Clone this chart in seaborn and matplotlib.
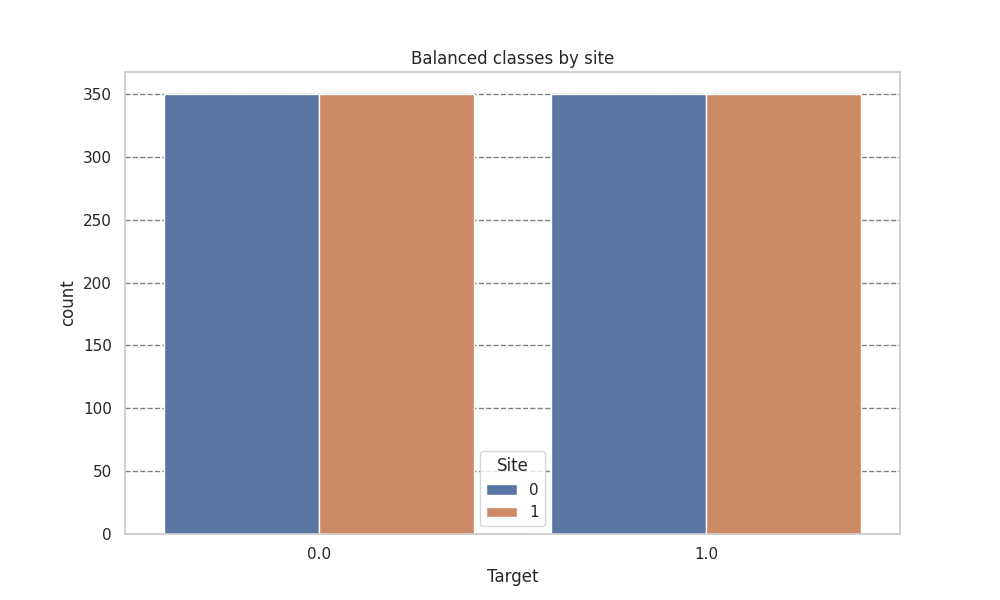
import pandas as pd
import matplotlib.pyplot as plt
import seaborn as sns

targets = [0.0, 0.0, 1.0, 1.0]
sites = [0, 1, 0, 1]
counts = [350, 350, 350, 350]

df = pd.DataFrame({'Target': targets, 'Site': sites, 'count': counts})

sns.set_theme(style='whitegrid')
fig, ax = plt.subplots(figsize=(10, 6), dpi=100)
sns.barplot(data=df, x='Target', y='count', hue='Site', ax=ax)
ax.set_title('Balanced classes by site')
ax.grid(axis='y', color='gray', linestyle='--', linewidth=1)
ax.grid(axis='x', visible=False)
ax.legend(title='Site', loc='best')
plt.savefig('out.png')
